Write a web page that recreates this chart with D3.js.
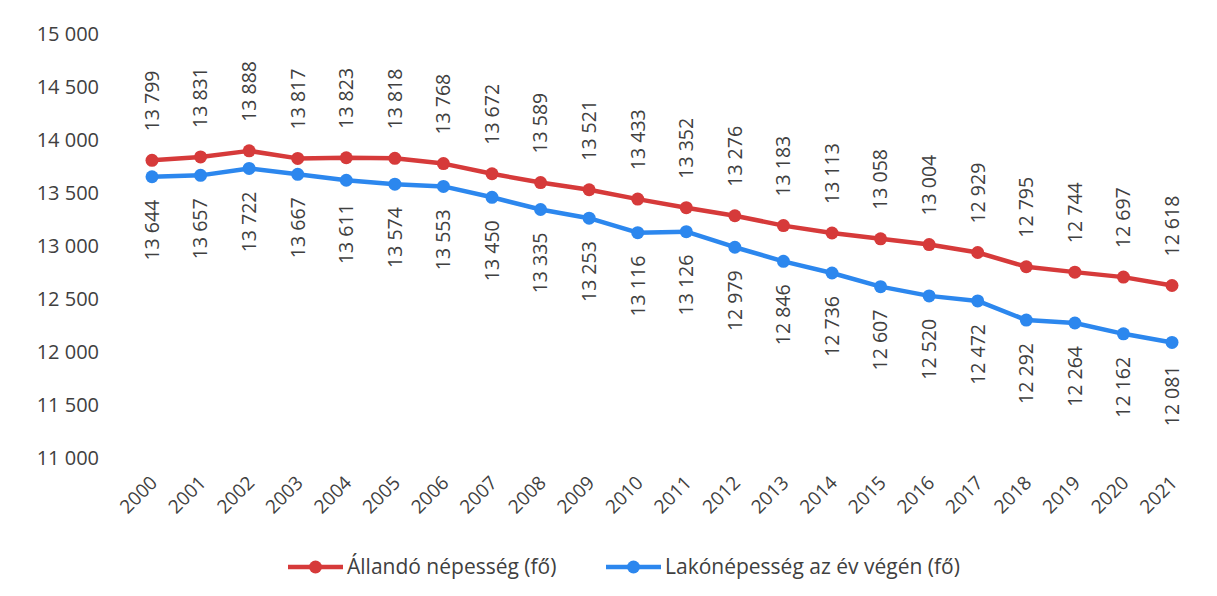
<!DOCTYPE html>
<html>
<head>
<meta charset="utf-8">
<script src="https://cdn.jsdelivr.net/npm/d3@7"></script>
<style>
  body { margin: 0; background: #fff; }
  svg { display: block; font-family: "Open Sans", sans-serif; }
  .tick text { fill: #404040; }
</style>
</head>
<body>
<div id="chart"></div>
<script>
const years = [2000, 2001, 2002, 2003, 2004, 2005, 2006, 2007, 2008, 2009, 2010,
  2011, 2012, 2013, 2014, 2015, 2016, 2017, 2018, 2019, 2020, 2021];
const allando = [13799, 13831, 13888, 13817, 13823, 13818, 13768, 13672, 13589, 13521, 13433,
  13352, 13276, 13183, 13113, 13058, 13004, 12929, 12795, 12744, 12697, 12618];
const lako = [13644, 13657, 13722, 13667, 13611, 13574, 13553, 13450, 13335, 13253, 13116,
  13126, 12979, 12846, 12736, 12607, 12520, 12472, 12292, 12264, 12162, 12081];
const yTicks = [11000, 11500, 12000, 12500, 13000, 13500, 14000, 14500, 15000];
const seriesNames = ["Állandó népesség (fő)", "Lakónépesség az év végén (fő)"];

const width = 1217, height = 596;
const margin = { top: 33, right: 45, bottom: 139, left: 152 };

const fmt = (v) => d3.format(",")(v).replace(/,/g, " ");

const svg = d3.select("#chart").append("svg")
  .attr("width", width)
  .attr("height", height);

const x = d3.scalePoint()
  .domain(years)
  .range([margin.left, width - margin.right]);

const y = d3.scaleLinear()
  .domain([11000, 15000])
  .range([height - margin.bottom, margin.top]);

// y axis, labels only
const gY = svg.append("g")
  .attr("transform", "translate(99,0)")
  .call(d3.axisLeft(y).tickValues(yTicks).tickFormat(fmt).tickSize(0).tickPadding(0))
  .attr("font-family", null);
gY.select(".domain").remove();
gY.selectAll("text").attr("font-size", 20).attr("dy", "0.35em");

// x axis, rotated year labels
const gX = svg.append("g")
  .attr("transform", `translate(0,${height - margin.bottom})`)
  .call(d3.axisBottom(x).tickSize(0).tickPadding(0))
  .attr("font-family", null);
gX.select(".domain").remove();
gX.selectAll("text")
  .attr("font-size", 19)
  .attr("text-anchor", "end")
  .attr("dy", 0)
  .attr("transform", "translate(6,27) rotate(-45)");

const series = [
  { name: seriesNames[0], values: allando, color: "#d63a3a", above: true },
  { name: seriesNames[1], values: lako, color: "#2c87ee", above: false },
];

const line = d3.line()
  .x((d, i) => x(years[i]))
  .y((d) => y(d));

series.forEach((s) => {
  const g = svg.append("g");
  g.append("path")
    .datum(s.values)
    .attr("fill", "none")
    .attr("stroke", s.color)
    .attr("stroke-width", 4.5)
    .attr("stroke-linejoin", "round")
    .attr("d", line);
  g.selectAll("circle")
    .data(s.values)
    .join("circle")
    .attr("cx", (d, i) => x(years[i]))
    .attr("cy", (d) => y(d))
    .attr("r", 6.5)
    .attr("fill", s.color);
  g.selectAll("text")
    .data(s.values)
    .join("text")
    .attr("transform", (d, i) =>
      `translate(${x(years[i])},${y(d) + (s.above ? -29 : 23)}) rotate(-90)`)
    .attr("text-anchor", s.above ? "start" : "end")
    .attr("dy", "0.35em")
    .attr("font-size", 19.5)
    .attr("fill", "#404040")
    .text(fmt);
});

// legend
const legend = svg.append("g").attr("transform", "translate(0,567)");
const legendItems = [
  { x: 288, s: series[0] },
  { x: 606, s: series[1] },
];
legendItems.forEach(({ x: lx, s }) => {
  legend.append("line")
    .attr("x1", lx).attr("x2", lx + 55)
    .attr("stroke", s.color)
    .attr("stroke-width", 4.5);
  legend.append("circle")
    .attr("cx", lx + 27.5)
    .attr("r", 6.5)
    .attr("fill", s.color);
  legend.append("text")
    .attr("x", lx + 59)
    .attr("dy", "0.35em")
    .attr("font-size", 21)
    .attr("fill", "#404040")
    .text(s.name);
});
</script>
</body>
</html>
